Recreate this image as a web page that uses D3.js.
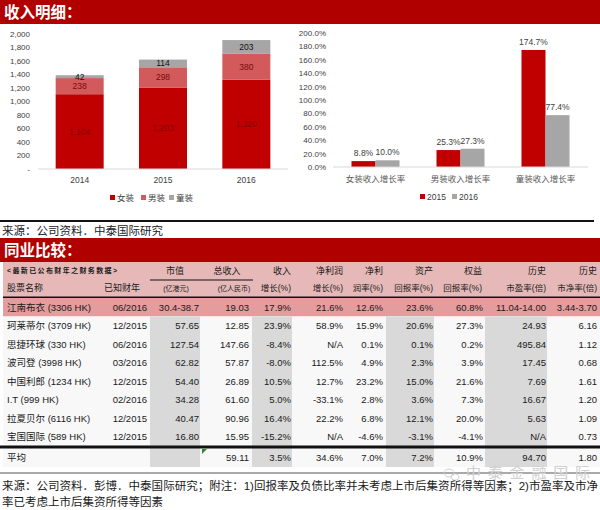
<!DOCTYPE html>
<html><head><meta charset="utf-8">
<script src="https://cdn.jsdelivr.net/npm/d3@7"></script>
<style>
body{margin:0;background:#fff}
svg{display:block;font-family:"Liberation Sans","Noto Sans CJK SC",sans-serif}
</style></head><body>
<div class="chart"></div>
<script>
// ---- chart data ----
const years = ["2014", "2015", "2016"];
const segNames = ["女装", "男装", "童装"];
const womens = [1104, 1203, 1320];
const mens = [238, 298, 380];
const kids = [42, 114, 203];

const growthCats = ["女装收入增长率", "男装收入增长率", "童装收入增长率"];
const growthYears = ["2015", "2016"];
const growth2015 = [0.088, 0.253, 1.747];
const growth2016 = [0.100, 0.273, 0.774];

// ---- table data ----
const names = ["江南布衣 (3306 HK)", "珂莱蒂尔 (3709 HK)", "思捷环球 (330 HK)", "波司登 (3998 HK)",
  "中国利郎 (1234 HK)", "I.T (999 HK)", "拉夏贝尔 (6116 HK)", "宝国国际 (589 HK)"];
const fiscal = ["06/2016", "12/2015", "06/2016", "03/2016", "12/2015", "02/2016", "12/2015", "12/2015"];
const mktCap = ["30.4-38.7", "57.65", "127.54", "62.82", "54.40", "34.28", "40.47", "16.80"];
const revenue = ["19.03", "12.85", "147.66", "57.87", "26.89", "61.60", "90.96", "15.95"];
const revGrowth = ["17.9%", "23.9%", "-8.4%", "-8.0%", "10.5%", "5.0%", "16.4%", "-15.2%"];
const npGrowth = ["21.6%", "58.9%", "N/A", "112.5%", "12.7%", "-33.1%", "22.2%", "N/A"];
const npMargin = ["12.6%", "15.9%", "0.1%", "4.9%", "23.2%", "2.8%", "6.8%", "-4.6%"];
const roa = ["23.6%", "20.6%", "0.1%", "2.3%", "15.0%", "3.6%", "12.1%", "-3.1%"];
const roe = ["60.8%", "27.3%", "0.2%", "3.9%", "21.6%", "7.3%", "20.0%", "-4.1%"];
const pe = ["11.04-14.00", "24.93", "495.84", "17.45", "7.69", "16.67", "5.63", "N/A"];
const pb = ["3.44-3.70", "6.16", "1.12", "0.68", "1.61", "1.20", "1.09", "0.73"];
const avgRow = ["", "", "59.11", "3.5%", "34.6%", "7.0%", "7.2%", "10.9%", "94.70", "1.80"];

const head1 = ["市值", "总收入", "收入", "净利润", "净利", "资产", "权益", "历史", "历史"];
const head2 = ["(亿港元)", "(亿人民币)", "增长(%)", "增长(%)", "润率(%)", "回报率(%)", "回报率(%)", "市盈率(倍)", "市净率(倍)"];

const red = "#c00000", pinkRed = "#d25a5a", grey = "#a6a6a6";

const svg = d3.select(".chart").append("svg")
  .attr("width", 600).attr("height", 510);

// section bars
function sectionBar(y, title) {
  svg.append("rect").attr("x", 0).attr("y", y).attr("width", 600).attr("height", 24).attr("fill", "#b00000");
  svg.append("text").attr("x", 4).attr("y", y + 18).attr("fill", "#fff")
    .attr("font-size", 15.5).attr("font-weight", "bold").text(title);
}
sectionBar(0, "收入明细：");

// ---- left stacked chart ----
const stackRows = years.map((y, i) => ({year: y, "女装": womens[i], "男装": mens[i], "童装": kids[i]}));
const series = d3.stack().keys(segNames)(stackRows);

const x = d3.scaleBand().domain(years).range([38, 288]).paddingInner(0.424).paddingOuter(0.212);
const y = d3.scaleLinear().domain([0, 2000]).range([169, 33.5]);
const segColor = d3.scaleOrdinal().domain(segNames).range([red, pinkRed, grey]);
const segLabel = d3.scaleOrdinal().domain(segNames).range(["#8a0000", "#7a0a0a", "#111"]);

const gL = svg.append("g");
gL.selectAll("text.yt").data(y.ticks(10)).join("text")
  .attr("x", 30).attr("y", d => y(d) + 3).attr("text-anchor", "end")
  .attr("font-size", 8).attr("fill", "#404040")
  .text(d => d === 0 ? "-" : d3.format(",")(d));

series.forEach(s => {
  gL.selectAll(null).data(s).join("rect")
    .attr("x", d => x(d.data.year)).attr("width", x.bandwidth())
    .attr("y", d => y(d[1])).attr("height", d => y(d[0]) - y(d[1]))
    .attr("fill", segColor(s.key));
  gL.selectAll(null).data(s).join("text")
    .attr("x", d => x(d.data.year) + x.bandwidth() / 2)
    .attr("y", d => (y(d[0]) + y(d[1])) / 2 + 3)
    .attr("text-anchor", "middle").attr("font-size", 8.5)
    .attr("fill", segLabel(s.key))
    .text(d => d3.format(",")(d[1] - d[0]));
});
gL.append("line").attr("x1", 38).attr("x2", 288).attr("y1", y(0)).attr("y2", y(0))
  .attr("stroke", "#d9d9d9");
gL.selectAll("text.xl").data(years).join("text")
  .attr("x", d => x(d) + x.bandwidth() / 2).attr("y", 183)
  .attr("text-anchor", "middle").attr("font-size", 8.5).attr("fill", "#404040").text(d => d);

const legL = gL.selectAll("g.leg").data(segNames).join("g")
  .attr("transform", (d, i) => `translate(${[110, 141, 169][i]},198)`);
legL.append("rect").attr("x", 0).attr("y", -3).attr("width", 5).attr("height", 5).attr("fill", d => segColor(d));
legL.append("text").attr("x", 7).attr("y", 3).attr("font-size", 8.5).attr("fill", "#404040").text(d => d);

// ---- right grouped chart ----
const x2 = d3.scaleBand().domain(growthCats).range([333, 588]).paddingInner(0.435).paddingOuter(0.2175);
const x2i = d3.scaleBand().domain(growthYears).range([0, x2.bandwidth()]);
const y2 = d3.scaleLinear().domain([0, 2]).range([167, 33]);
const yrColor = d3.scaleOrdinal().domain(growthYears).range([red, grey]);
const gRows = growthCats.map((c, i) => ({cat: c, vals: [["2015", growth2015[i]], ["2016", growth2016[i]]]}));

const gR = svg.append("g");
gR.selectAll("text.yt").data(y2.ticks(10)).join("text")
  .attr("x", 326).attr("y", d => y2(d) + 3).attr("text-anchor", "end")
  .attr("font-size", 8).attr("fill", "#404040").text(d => d3.format(".1%")(d));

const grp = gR.selectAll("g.grp").data(gRows).join("g")
  .attr("transform", d => `translate(${x2(d.cat)},0)`);
grp.selectAll("rect").data(d => d.vals).join("rect")
  .attr("x", d => x2i(d[0])).attr("width", x2i.bandwidth())
  .attr("y", d => y2(d[1])).attr("height", d => y2(0) - y2(d[1]))
  .attr("fill", d => yrColor(d[0]));
grp.selectAll("text").data(d => d.vals).join("text")
  .attr("x", d => x2i(d[0]) + x2i.bandwidth() / 2).attr("y", d => y2(d[1]) - 5)
  .attr("text-anchor", "middle").attr("font-size", 8.5).attr("fill", "#404040")
  .text(d => d3.format(".1%")(d[1]));
gR.append("line").attr("x1", 333).attr("x2", 588).attr("y1", y2(0)).attr("y2", y2(0))
  .attr("stroke", "#d9d9d9");
gR.selectAll("text.xl").data(growthCats).join("text")
  .attr("x", d => x2(d) + x2.bandwidth() / 2).attr("y", 182)
  .attr("text-anchor", "middle").attr("font-size", 8.5).attr("fill", "#595959").text(d => d);
const legR = gR.selectAll("g.leg").data(growthYears).join("g")
  .attr("transform", (d, i) => `translate(${[420, 452][i]},197)`);
legR.append("rect").attr("x", 0).attr("y", -3).attr("width", 5).attr("height", 5).attr("fill", d => yrColor(d));
legR.append("text").attr("x", 7).attr("y", 3).attr("font-size", 8.5).attr("fill", "#404040").text(d => d);

// divider + source
svg.append("rect").attr("x", 0).attr("y", 220).attr("width", 594).attr("height", 2).attr("fill", "#111");
svg.append("text").attr("x", 2).attr("y", 235).attr("font-size", 11.5).attr("fill", "#222")
  .text("来源：公司资料．中泰国际研究");

sectionBar(238, "同业比较：");

// ---- table ----
const cols = [fiscal, mktCap, revenue, revGrowth, npGrowth, npMargin, roa, roe, pe, pb];
const colRight = [147, 199, 249, 291, 343, 383, 433, 483, 546, 597];
const colLeft = [100, 150, 200, 252, 293, 345, 386, 436, 485, 548];
const shaded = [1, 3, 6, 8];
const rowY = d3.scaleBand().domain(d3.range(names.length)).range([298, 446]);

const tb = svg.append("g").attr("font-size", 9.5).attr("fill", "#1a1a1a");
tb.append("rect").attr("x", 3).attr("y", 262).attr("width", 597).attr("height", 35).attr("fill", "#e6b9b8");
tb.append("rect").attr("x", 3).attr("y", 298).attr("width", 597).attr("height", rowY.step()).attr("fill", "#e59c9c");
tb.append("rect").attr("x", 3).attr("y", 298 + rowY.step()).attr("width", 597).attr("height", 169 - rowY.step()).attr("fill", "#f8f8f8");
shaded.forEach(c => {
  tb.append("rect").attr("x", colLeft[c]).attr("y", 298 + rowY.step())
    .attr("width", colRight[c] - colLeft[c] + 1).attr("height", 169 - rowY.step()).attr("fill", "#d9d9d9");
});
tb.append("rect").attr("x", 3).attr("y", 296.5).attr("width", 597).attr("height", 1.5).attr("fill", "#111");
tb.append("rect").attr("x", 150).attr("y", 279.5).attr("width", 103).attr("height", 1).attr("fill", "#111");
tb.append("rect").attr("x", 0).attr("y", 445.5).attr("width", 600).attr("height", 3).attr("fill", "#111");
tb.append("rect").attr("x", 0).attr("y", 472.5).attr("width", 600).attr("height", 1).attr("fill", "#555");
tb.append("path").attr("d", "M202,449 L207,449 L202,454 Z").attr("fill", "#2e8b2e");

// header
tb.append("text").attr("x", 7).attr("y", 273).attr("font-size", 7).attr("font-weight", "bold")
  .attr("textLength", 110).text("<最新已公布财年之财务数据>");
const h1x = [175, 227, 291, 343, 383, 433, 482, 546, 597];
tb.selectAll("text.h1").data(head1).join("text")
  .attr("x", (d, i) => h1x[i]).attr("y", 274)
  .attr("text-anchor", (d, i) => i < 2 ? "middle" : "end").attr("font-size", 9).text(d => d);
tb.append("text").attr("x", 7).attr("y", 291).attr("font-size", 9).text("股票名称");
tb.append("text").attr("x", 122).attr("y", 291).attr("text-anchor", "middle").attr("font-size", 9).text("已知财年");
const h2x = [176, 234, 291, 343, 383, 433, 482, 546, 597];
tb.selectAll("text.h2").data(head2).join("text")
  .attr("x", (d, i) => h2x[i]).attr("y", 291)
  .attr("text-anchor", (d, i) => i < 2 ? "middle" : "end")
  .attr("font-size", (d, i) => i < 2 ? 7 : 8.5).text(d => d);

// body
tb.selectAll("text.nm").data(names).join("text")
  .attr("x", 7).attr("y", (d, i) => rowY(i) + rowY.step() / 2 + 3.5).text(d => d);
cols.forEach((col, c) => {
  tb.selectAll(null).data(col).join("text")
    .attr("x", colRight[c]).attr("y", (d, i) => rowY(i) + rowY.step() / 2 + 3.5)
    .attr("text-anchor", "end").text(d => d);
});
tb.append("text").attr("x", 7).attr("y", 460.5).text("平均");
tb.selectAll("text.avg").data(avgRow).join("text")
  .attr("x", (d, i) => colRight[i]).attr("y", 460.5).attr("text-anchor", "end").text(d => d);

// watermark (logo as two outlined bubbles) + footnote
const wm = svg.append("g").attr("fill", "none").attr("stroke", "#c8c8c8").attr("stroke-width", 0.8);
wm.append("ellipse").attr("cx", 449).attr("cy", 473).attr("rx", 5).attr("ry", 4);
wm.append("ellipse").attr("cx", 455).attr("cy", 477).attr("rx", 4).attr("ry", 3.2);
svg.append("text").attr("x", 466).attr("y", 478).attr("font-size", 15).attr("fill", "#d0d0d0")
  .attr("textLength", 124).text("中泰金融国际");
svg.append("text").attr("x", 2).attr("y", 490).attr("font-size", 11.5).attr("fill", "#1a1a1a")
  .attr("textLength", 596)
  .text("来源：公司资料．彭博．中泰国际研究；附注：1)回报率及负债比率并未考虑上市后集资所得等因素；2)市盈率及市净");
svg.append("text").attr("x", 2).attr("y", 506).attr("font-size", 11.5).attr("fill", "#1a1a1a")
  .text("率已考虑上市后集资所得等因素");
</script>
</body></html>
